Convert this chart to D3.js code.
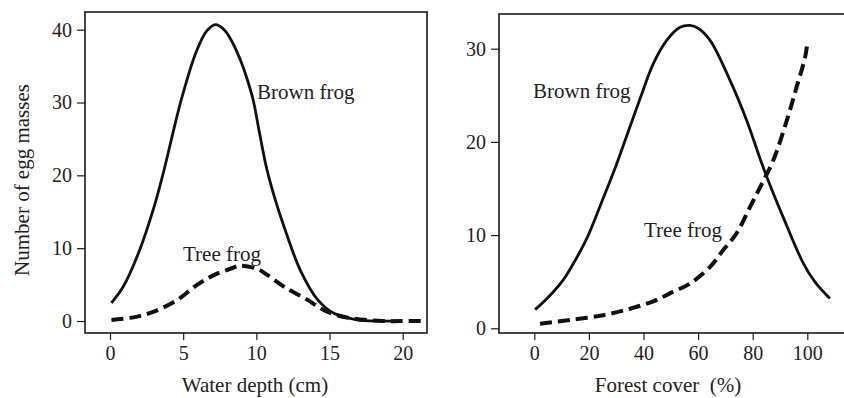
<!DOCTYPE html>
<html><head><meta charset="utf-8">
<script src="https://cdn.jsdelivr.net/npm/d3@7"></script>
<style>
body{margin:0;background:#fff;}
svg{display:block;font-family:"Liberation Serif","Times New Roman",serif;}
</style></head>
<body>
<svg id="c" width="844" height="398"></svg>
<script>
// ---- Data ----
const depthBrownX = [0.1,0.9,2.0,3.0,3.6,4.9,5.9,6.6,7.2,7.8,8.6,9.7,10.2,10.7,11.3,11.9,13.0,14.2,15.3,16.9,18.5,19.5];
const depthBrownY = [2.5,4.7,9.6,15.6,20.0,30.6,37.0,39.8,40.7,40.0,37.3,31.0,26.0,21.0,16.6,12.9,7.0,2.9,1.05,0.15,0.0,0.0];
const depthTreeX = [0.1,1.6,3.0,4.6,5.9,7.1,8.4,8.9,10.0,10.7,11.9,13.5,14.8,16.4,18.7,20.5,22.6];
const depthTreeY = [0.15,0.5,1.3,2.9,4.9,6.3,7.3,7.6,7.2,6.4,4.7,2.9,1.3,0.4,0.0,0.0,0.0];
const forestBrownX = [0.3,5,10.6,15,19.5,25.3,30,33.8,38.7,43.6,48.5,53.4,57,60,64.4,71.7,77.8,82.7,85.1,91.2,98.5,103,108.3];
const forestBrownY = [2.0,3.3,5.2,7.3,9.8,14.0,17.5,20.6,24.6,28.4,30.9,32.3,32.5,32.2,30.9,26.6,22.3,18.2,16.3,11.9,7.0,4.9,3.2];
const forestTreeX = [2.1,13.1,25.3,35.1,43.6,50,57,64.4,69.2,74.1,79,83,87.5,92.5,96.1,99.2,100.1];
const forestTreeY = [0.5,0.9,1.4,2.1,2.9,3.8,4.8,6.6,8.4,10.2,13.0,15.3,18.0,22.3,25.9,29.1,30.8];
const depthTicksX = [0,5,10,15,20];
const depthTicksY = [0,10,20,30,40];
const forestTicksX = [0,20,40,60,80,100];
const forestTicksY = [0,10,20,30];
const labels = {yTitle:"Number of egg masses", xLeft:"Water depth (cm)", xRight:"Forest cover\u00a0 (%)", brown:"Brown frog", tree:"Tree frog"};

const svg = d3.select("#c");

function panel(cfg){
  const g = svg.append("g");
  const x = d3.scaleLinear().domain(cfg.xd).range(cfg.xr);
  const y = d3.scaleLinear().domain(cfg.yd).range(cfg.yr);
  const f = cfg.frame;
  const id = "clip" + cfg.name;
  svg.append("clipPath").attr("id", id).append("rect")
    .attr("x", f[0]).attr("y", f[1]).attr("width", f[2]-f[0]).attr("height", f[3]-f[1]);
  g.append("rect").attr("x", f[0]).attr("y", f[1]).attr("width", f[2]-f[0]).attr("height", f[3]-f[1])
    .attr("fill","none").attr("stroke","#1a1a1a").attr("stroke-width",1.6);
  const ax = g.append("g").attr("transform", `translate(0,${f[3]})`)
    .call(d3.axisBottom(x).tickValues(cfg.xt).tickSize(7).tickPadding(6).tickFormat(d3.format("d")));
  const ay = g.append("g").attr("transform", `translate(${f[0]},0)`)
    .call(d3.axisLeft(y).tickValues(cfg.yt).tickSize(8).tickPadding(5).tickFormat(d3.format("d")));
  [ax, ay].forEach(a => {
    a.select(".domain").remove();
    a.selectAll("line").attr("stroke","#1a1a1a").attr("stroke-width",1.2);
    a.selectAll("text").attr("font-family","Liberation Serif").attr("font-size",20).attr("fill","#222");
  });
  const line = d3.line().x(d=>x(d[0])).y(d=>y(d[1])).curve(d3.curveCatmullRom.alpha(0.5));
  const cg = g.append("g").attr("clip-path", `url(#${id})`);
  cg.append("path").datum(d3.zip(cfg.bx, cfg.by)).attr("d", line)
    .attr("fill","none").attr("stroke","#111").attr("stroke-width",2.8);
  cg.append("path").datum(d3.zip(cfg.tx, cfg.ty)).attr("d", line)
    .attr("fill","none").attr("stroke","#111").attr("stroke-width",4).attr("stroke-dasharray","12,6");
  g.append("text").attr("x", cfg.brownPos[0]).attr("y", cfg.brownPos[1]).attr("font-size",21).attr("fill","#222").text(labels.brown);
  g.append("text").attr("x", cfg.treePos[0]).attr("y", cfg.treePos[1]).attr("font-size",21).attr("fill","#222").text(labels.tree);
  g.append("text").attr("x", cfg.xTitlePos[0]).attr("y", cfg.xTitlePos[1]).attr("text-anchor","middle")
    .attr("font-size",21).attr("fill","#222").text(cfg.xTitle);
}

panel({name:"L", xd:[0,20], xr:[110,402.7], yd:[0,40], yr:[321,29.7], frame:[85,12,427,333],
  xt:depthTicksX, yt:depthTicksY, bx:depthBrownX, by:depthBrownY, tx:depthTreeX, ty:depthTreeY,
  brownPos:[257,99], treePos:[183,261], xTitlePos:[255,392], xTitle:labels.xLeft});
panel({name:"R", xd:[0,100], xr:[534.3,807.3], yd:[0,30], yr:[328.3,48.7], frame:[499,14,846,333],
  xt:forestTicksX, yt:forestTicksY, bx:forestBrownX, by:forestBrownY, tx:forestTreeX, ty:forestTreeY,
  brownPos:[533,98], treePos:[644,237], xTitlePos:[668,392], xTitle:labels.xRight});

svg.append("text").attr("transform","translate(29,180) rotate(-90)").attr("text-anchor","middle")
  .attr("font-size",21).attr("fill","#222").text(labels.yTitle);
</script>
</body></html>
